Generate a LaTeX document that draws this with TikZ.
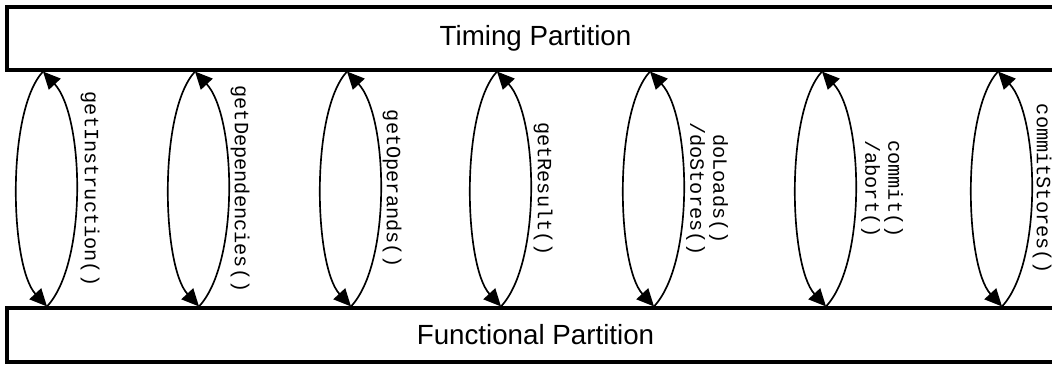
\documentclass[tikz,border=0pt]{standalone}
\usepackage{fontspec}
\setmainfont{Liberation Sans}
\newfontfamily\callfont{Liberation Mono}
\usetikzlibrary{arrows.meta}

\begin{document}
\begin{tikzpicture}[
  x=0.75pt, y=0.75pt,
  part/.style={draw, line width=2.3pt, minimum width=792.75pt, inner sep=0pt, font=\fontsize{20.8}{24}\selectfont},
  call/.style={rotate=-90, align=center, inner sep=0pt, font=\callfont\fontsize{15.2}{17.25}\selectfont},
  arr/.style={-{Triangle[length=13pt,width=12pt]}, line width=1.25pt}
]
\useasboundingbox (0,0) rectangle (1052,364);
\clip (0,0) rectangle (1052,364);
\node[part, minimum height=47.25pt] (timing) at (535.5,325.5) {Timing Partition};
\node[part, minimum height=40.5pt] (functional) at (535.5,29) {Functional Partition};
% call pairs between the partitions
\foreach \x/\n in {43/1,195/2,347/3,497/4,650/5,822/6,998/7}{
  \coordinate (c\n) at (\x,0);
  \coordinate (d\n) at (\x+4,0);
  \draw[arr] (timing.south -| c\n) .. controls +(-37,-40) and +(-37,40) .. (functional.north -| d\n);
  \draw[arr] (functional.north -| d\n) .. controls +(41,44) and +(41,-44) .. (timing.south -| c\n);
}
\node[call] (instr) at (90,175) {getInstruction()};
\node[call] (deps) at (240,175) {getDependencies()};
\node[call] (opnds) at (392,175) {getOperands()};
\node[call] (result) at (543,175) {getResult()};
\node[call] (ldst) at (707,175) {doLoads()\\/doStores()};
\node[call] (commit) at (882,175) {commit()\\/abort()};
\node[call] (stores) at (1042,175) {commitStores()};
\end{tikzpicture}
\end{document}
